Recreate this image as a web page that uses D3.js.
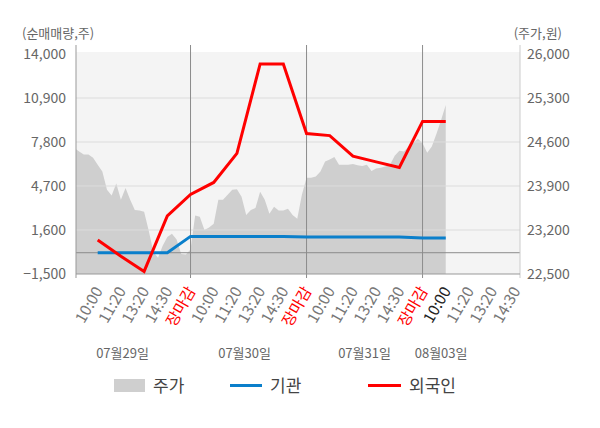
<!DOCTYPE html>
<html>
<head>
<meta charset="utf-8">
<script src="https://cdn.jsdelivr.net/npm/d3@7"></script>
<style>
  body { margin: 0; background: #fff; }
  svg { font-family: "Noto Sans CJK KR", "Noto Sans", sans-serif; }
</style>
</head>
<body>
<div id="chart"></div>
<script>
// x축 라벨 (슬롯 1..19)
const xLabels = [
  "10:00", "11:20", "13:20", "14:30", "장마감",
  "10:00", "11:20", "13:20", "14:30", "장마감",
  "10:00", "11:20", "13:20", "14:30", "장마감",
  "10:00", "11:20", "13:20", "14:30"
];
const currentSlot = 16;
const daySeparators = [0, 5, 10, 15];
const dayLabels = ["07월29일", "07월30일", "07월31일", "08월03일"];
const dayLabelSlots = [2.07, 7.33, 12.5, 15.8];

// 순매매량 (슬롯 1..16)
const lineSlots = [1, 2, 3, 4, 5, 6, 7, 8, 9, 10, 11, 12, 13, 14, 15, 16];
const foreignNet = [900, -250, -1320, 2600, 4100, 4950, 7000, 13300, 13300, 8400, 8250, 6800, 6400, 6000, 9250, 9250];
const instNet = [0, 0, 0, 0, 1150, 1150, 1150, 1150, 1150, 1100, 1100, 1100, 1100, 1100, 1030, 1030];

// 주가 (0.2 슬롯 간격)
const priceStep = 0.2;
const price = [
  24500, 24450, 24400, 24400, 24350, 24240, 24130, 23840, 23750, 23940,
  23680, 23870, 23680, 23520, 23510, 23490, 23190, 22850, 22760, 22950,
  23090, 23140, 23050, 22820, 22810, 22890, 23430, 23410, 23200, 23240,
  23300, 23680, 23680, 23760, 23840, 23850, 23730, 23440, 23520, 23550,
  23810, 23680, 23460, 23570, 23510, 23510, 23540, 23440, 23380, 23760,
  24030, 24030, 24050, 24130, 24290, 24320, 24360, 24240, 24240, 24240,
  24250, 24230, 24220, 24240, 24140, 24180, 24190, 24210, 24240, 24380,
  24460, 24450, 24530, 24590, 24650, 24580, 24430, 24530, 24730, 24950,
  25190
];

const leftTicks = [-1500, 1600, 4700, 7800, 10900, 14000];
const rightTicks = [22500, 23200, 23900, 24600, 25300, 26000];

const plot = { left: 76, right: 520, top: 54, bottom: 274 };

const svg = d3.select("#chart")
  .append("svg")
    .attr("width", 600)
    .attr("height", 428);

const x = d3.scaleLinear().domain([0, 19.2]).range([74.5, 520]);
const yL = d3.scaleLinear().domain([-1500, 14000]).range([plot.bottom, plot.top]);
const yR = d3.scaleLinear().domain([22500, 26000]).range([plot.bottom, plot.top]);

svg.append("defs").append("clipPath")
    .attr("id", "plotClip")
  .append("rect")
    .attr("x", plot.left)
    .attr("y", 40)
    .attr("width", plot.right - plot.left)
    .attr("height", plot.bottom - 40);

// 배경
svg.append("rect")
  .attr("x", plot.left)
  .attr("y", 52)
  .attr("width", plot.right - plot.left)
  .attr("height", plot.bottom - 52)
  .attr("fill", "#f4f4f4");

// 주가 영역
const area = d3.area()
  .x((d, i) => x(i * priceStep))
  .y0(plot.bottom)
  .y1(d => yR(d));
svg.append("path")
  .datum(price)
  .attr("clip-path", "url(#plotClip)")
  .attr("d", area)
  .attr("fill", "#cfcfcf");

// 그리드
svg.selectAll(".grid")
  .data(leftTicks.slice(1, 5))
  .enter()
  .append("line")
    .attr("class", "grid")
    .attr("x1", plot.left)
    .attr("x2", plot.right)
    .attr("y1", d => yL(d))
    .attr("y2", d => yL(d))
    .attr("stroke", "#dcdcdc")
    .attr("stroke-width", 1);

svg.append("line")
  .attr("x1", plot.left).attr("x2", plot.right)
  .attr("y1", yL(0)).attr("y2", yL(0))
  .attr("stroke", "#8c8c8c")
  .attr("stroke-width", 1);

// 일자 구분선
svg.selectAll(".sep")
  .data(daySeparators.slice(1))
  .enter()
  .append("line")
    .attr("x1", d => x(d)).attr("x2", d => x(d))
    .attr("y1", 45).attr("y2", plot.bottom + 4)
    .attr("stroke", "#8c8c8c")
    .attr("stroke-width", 1);

svg.append("line")
  .attr("x1", plot.left).attr("x2", plot.left)
  .attr("y1", 45).attr("y2", plot.bottom + 4)
  .attr("stroke", "#999").attr("stroke-width", 1);
svg.append("line")
  .attr("x1", plot.right).attr("x2", plot.right)
  .attr("y1", 45).attr("y2", plot.bottom + 4)
  .attr("stroke", "#ccc").attr("stroke-width", 1);
svg.append("line")
  .attr("x1", plot.left).attr("x2", plot.right)
  .attr("y1", plot.bottom).attr("y2", plot.bottom)
  .attr("stroke", "#999").attr("stroke-width", 1);

// 선 그래프
const line = d3.line()
  .x(d => x(d[0]))
  .y(d => yL(d[1]));
svg.append("path")
  .datum(lineSlots.map((s, i) => [s, instNet[i]]))
  .attr("d", line)
  .attr("fill", "none")
  .attr("stroke", "#0a7fcb")
  .attr("stroke-width", 3);
svg.append("path")
  .datum(lineSlots.map((s, i) => [s, foreignNet[i]]))
  .attr("d", line)
  .attr("fill", "none")
  .attr("stroke", "#ff0000")
  .attr("stroke-width", 3);

// 축
const fmt = d3.format(",");
const leftAxis = svg.append("g")
  .attr("transform", "translate(" + plot.left + ",0)")
  .call(d3.axisLeft(yL).tickValues(leftTicks).tickSize(0).tickPadding(10).tickFormat(fmt));
const rightAxis = svg.append("g")
  .attr("transform", "translate(" + plot.right + ",0)")
  .call(d3.axisRight(yR).tickValues(rightTicks).tickSize(0).tickPadding(7).tickFormat(fmt));
[leftAxis, rightAxis].forEach(a => {
  a.select(".domain").remove();
  a.selectAll("text")
    .attr("fill", "#666")
    .style("font-size", "14px")
    .style("font-family", "'Noto Sans CJK KR', sans-serif");
});

const bottomAxis = svg.append("g")
  .attr("transform", "translate(0," + plot.bottom + ")")
  .call(d3.axisBottom(x)
    .tickValues(xLabels.map((d, i) => i + 1))
    .tickSize(0)
    .tickFormat(d => xLabels[d - 1]));
bottomAxis.select(".domain").remove();
bottomAxis.selectAll(".tick text")
  .attr("transform", "translate(0.5,14) rotate(-60)")
  .attr("text-anchor", "end")
  .attr("x", 0)
  .attr("y", 0)
  .attr("dy", "0.35em")
  .style("font-size", "15.5px")
  .style("font-family", "'Noto Sans CJK KR', sans-serif")
  .attr("fill", d => xLabels[d - 1] === "장마감" ? "#ff0000" : (d === currentSlot ? "#222" : "#777"));

// 일자 라벨
svg.selectAll(".day")
  .data(dayLabels)
  .enter()
  .append("text")
    .attr("x", (d, i) => x(dayLabelSlots[i]))
    .attr("y", 358)
    .attr("text-anchor", "middle")
    .attr("fill", "#666")
    .style("font-size", "13px")
    .text(d => d);

// 단위
svg.append("text")
  .attr("x", 22).attr("y", 38)
  .attr("fill", "#666")
  .style("font-size", "13px")
  .text("(순매매량,주)");
svg.append("text")
  .attr("x", 562).attr("y", 38)
  .attr("text-anchor", "end")
  .attr("fill", "#666")
  .style("font-size", "13px")
  .text("(주가,원)");

// 범례
const legend = svg.append("g");
legend.append("rect")
  .attr("x", 114).attr("y", 379)
  .attr("width", 31).attr("height", 13)
  .attr("fill", "#cfcfcf");
legend.append("line")
  .attr("x1", 230).attr("x2", 262)
  .attr("y1", 385.5).attr("y2", 385.5)
  .attr("stroke", "#0a7fcb").attr("stroke-width", 3);
legend.append("line")
  .attr("x1", 368).attr("x2", 401)
  .attr("y1", 385.5).attr("y2", 385.5)
  .attr("stroke", "#ff0000").attr("stroke-width", 3);
legend.selectAll("text")
  .data([["주가", 153], ["기관", 270], ["외국인", 409]])
  .enter()
  .append("text")
    .attr("x", d => d[1])
    .attr("y", 391.5)
    .attr("fill", "#444")
    .style("font-size", "17px")
    .text(d => d[0]);
</script>
</body>
</html>
